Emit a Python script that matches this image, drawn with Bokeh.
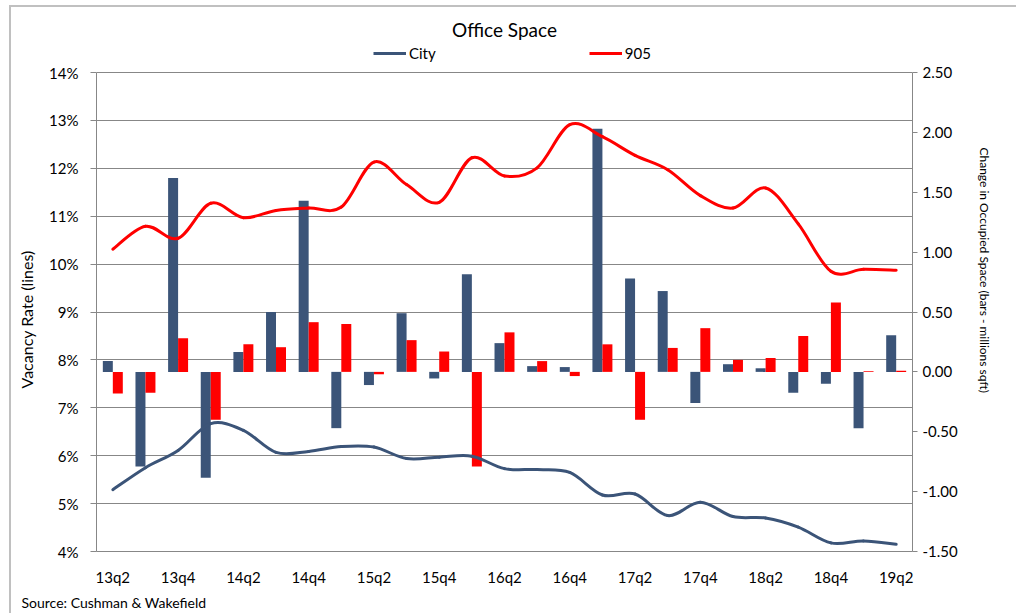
import math
from bokeh.plotting import figure
from bokeh.models import (Range1d, LinearAxis, FixedTicker, PrintfTickFormatter,
                          NumeralTickFormatter, Legend, LegendItem, ColumnDataSource, Title)
from bokeh.embed import file_html
from bokeh.resources import INLINE

quarters = ["13q2", "13q3", "13q4", "14q1", "14q2", "14q3", "14q4", "15q1", "15q2", "15q3",
            "15q4", "16q1", "16q2", "16q3", "16q4", "17q1", "17q2", "17q3", "17q4", "18q1",
            "18q2", "18q3", "18q4", "19q1", "19q2"]
city_vacancy = [5.29, 5.75, 6.11, 6.67, 6.53, 6.07, 6.09, 6.19, 6.18, 5.94, 5.97, 5.99, 5.73,
                5.71, 5.65, 5.18, 5.20, 4.75, 5.03, 4.73, 4.70, 4.51, 4.18, 4.22, 4.15]
r905_vacancy = [10.31, 10.79, 10.54, 11.27, 10.97, 11.12, 11.17, 11.19, 12.13, 11.66, 11.29,
                12.22, 11.84, 12.01, 12.91, 12.66, 12.27, 11.97, 11.43, 11.17, 11.59, 10.84,
                9.85, 9.89, 9.87]
city_change = [0.09, -0.79, 1.62, -0.885, 0.165, 0.50, 1.43, -0.47, -0.11, 0.49, -0.055, 0.815,
               0.24, 0.048, 0.04, 2.03, 0.78, 0.675, -0.26, 0.064, 0.03, -0.175, -0.10, -0.47,
               0.305]
r905_change = [-0.18, -0.175, 0.28, -0.40, 0.23, 0.206, 0.415, 0.40, -0.02, 0.265, 0.17, -0.79,
               0.33, 0.09, -0.035, 0.23, -0.40, 0.20, 0.365, 0.10, 0.115, 0.30, 0.58, 0.005, 0.01]
left_ticks = [4, 5, 6, 7, 8, 9, 10, 11, 12, 13, 14]
right_ticks = [-1.5, -1.0, -0.5, 0.0, 0.5, 1.0, 1.5, 2.0, 2.5]

BLUE = "#3B5478"
RED = "#FF0000"
GRID = "#878787"
FRAME_EDGE = "#c0c0c0"
FONT = "Lato"
NAN = float("nan")

n = len(quarters)
xs = list(range(n))

# chart-area edge lines (top and left) drawn as the page background behind the canvas
edge_styles = {
    "background-color": "white",
    "background-image": f"linear-gradient({FRAME_EDGE},{FRAME_EDGE}), linear-gradient({FRAME_EDGE},{FRAME_EDGE})",
    "background-size": "2px 100%, 100% 2px",
    "background-position": "9px 5px, 9px 5px",
    "background-repeat": "no-repeat",
}

# frame spans 32 px above the 14% / 2.50 level (room for the legend)
head = 32 / 47.9
p = figure(width=1016, height=613, output_backend="svg", toolbar_location=None,
           x_range=Range1d(-0.5, n - 0.5), y_range=Range1d(4, 14 + head),
           min_border_left=96, min_border_right=104, min_border_top=40, min_border_bottom=62,
           outline_line_color=None, background_fill_color="white", border_fill_color=None,
           styles=edge_styles)
p.extra_y_ranges = {"bars": Range1d(-1.5, 2.5 + head * 0.4)}

# grid
p.xgrid.visible = False
p.ygrid.grid_line_color = GRID
p.ygrid.grid_line_width = 1
p.ygrid.ticker = FixedTicker(ticks=left_ticks)

# x axis
xa = p.xaxis[0]
xa.ticker = FixedTicker(ticks=list(range(0, n, 2)))
xa.major_label_overrides = {i: quarters[i] for i in range(0, n, 2)}
xa.major_tick_out = 0
xa.major_tick_in = 0
xa.minor_tick_line_color = None
xa.axis_line_color = GRID
xa.major_label_standoff = 16
xa.major_label_text_font = FONT
xa.major_label_text_font_size = "15px"
xa.major_label_text_color = "black"

# left axis
ya = p.yaxis[0]
ya.ticker = FixedTicker(ticks=left_ticks)
ya.bounds = (4, 14)
ya.formatter = PrintfTickFormatter(format="%d%%")
ya.major_tick_out = 6
ya.major_tick_in = 0
ya.minor_tick_line_color = None
ya.axis_line_color = GRID
ya.major_tick_line_color = GRID
ya.major_label_standoff = 12
ya.major_label_text_font = FONT
ya.major_label_text_font_size = "15px"
ya.major_label_text_color = "black"

# right axis
ra = LinearAxis(y_range_name="bars")
ra.ticker = FixedTicker(ticks=right_ticks)
ra.bounds = (-1.5, 2.5)
ra.formatter = NumeralTickFormatter(format="0.00")
ra.major_tick_out = 5
ra.major_tick_in = 0
ra.minor_tick_line_color = None
ra.axis_line_color = GRID
ra.major_tick_line_color = GRID
ra.major_label_standoff = 5
ra.major_label_text_font = FONT
ra.major_label_text_font_size = "15px"
ra.major_label_text_color = "black"
p.add_layout(ra, "right")

# bars
bw = 0.306
p.vbar(x=[x - bw / 2 for x in xs], top=city_change, bottom=0, width=bw,
       fill_color=BLUE, line_color=None, y_range_name="bars")
p.vbar(x=[x + bw / 2 for x in xs], top=r905_change, bottom=0, width=bw,
       fill_color=RED, line_color=None, y_range_name="bars")


def smooth_segments(vals):
    pts = list(zip(xs, vals))
    seg = {k: [] for k in ("x0", "y0", "x1", "y1", "cx0", "cy0", "cx1", "cy1")}
    for i in range(len(pts) - 1):
        p0 = pts[i - 1] if i > 0 else pts[i]
        p1 = pts[i]
        p2 = pts[i + 1]
        p3 = pts[i + 2] if i + 2 < len(pts) else pts[i + 1]
        seg["x0"].append(p1[0]); seg["y0"].append(p1[1])
        seg["x1"].append(p2[0]); seg["y1"].append(p2[1])
        seg["cx0"].append(p1[0] + (p2[0] - p0[0]) / 6); seg["cy0"].append(p1[1] + (p2[1] - p0[1]) / 6)
        seg["cx1"].append(p2[0] - (p3[0] - p1[0]) / 6); seg["cy1"].append(p2[1] - (p3[1] - p1[1]) / 6)
    return ColumnDataSource(seg)


p.bezier(x0="x0", y0="y0", x1="x1", y1="y1", cx0="cx0", cy0="cy0", cx1="cx1", cy1="cy1",
         source=smooth_segments(r905_vacancy), line_color=RED, line_width=3, line_cap="round")
p.bezier(x0="x0", y0="y0", x1="x1", y1="y1", cx0="cx0", cy0="cy0", cx1="cx1", cy1="cy1",
         source=smooth_segments(city_vacancy), line_color=BLUE, line_width=3, line_cap="round")

# legend inside the (extended) frame, above the 14% line
lc = p.line(x=[0], y=[NAN], line_color=BLUE, line_width=3)
lr = p.line(x=[0], y=[NAN], line_color=RED, line_width=3)
legend = Legend(items=[LegendItem(label="City", renderers=[lc]),
                       LegendItem(label="905", renderers=[lr])],
                orientation="horizontal", location=(277, 489), spacing=153,
                glyph_width=33, glyph_height=16, label_height=16, label_standoff=3,
                padding=0, margin=0, border_line_color=None, background_fill_alpha=0,
                label_text_font=FONT, label_text_font_size="15px", label_text_color="black")
p.add_layout(legend, "center")

# title
p.title = Title(text="Office Space", align="center", text_font=FONT, text_font_size="19px",
                text_font_style="normal", text_color="black", standoff=0)

# axis titles and source note
p.add_layout(Title(text="Vacancy Rate (lines)", align="left", offset=163, standoff=22,
                   text_font=FONT, text_font_size="16px", text_font_style="normal",
                   text_color="black"), "left")
p.add_layout(Title(text="Change in Occupied Space (bars - millions sqft)", align="left",
                   offset=107, standoff=33, text_font=FONT, text_font_size="12px",
                   text_font_style="normal", text_color="black"), "right")
p.add_layout(Title(text="Source: Cushman & Wakefield", align="left", offset=-75, standoff=6,
                   text_font=FONT, text_font_size="14px", text_font_style="normal",
                   text_color="black"), "below")

open("out.html", "w").write(file_html(p, INLINE))
